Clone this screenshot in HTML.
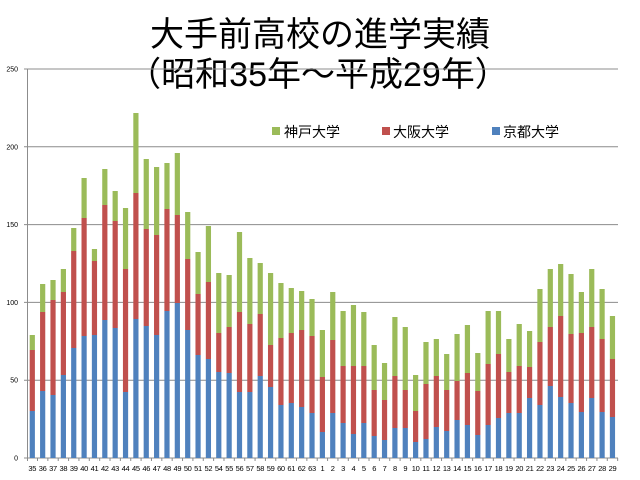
<!DOCTYPE html>
<html><head><meta charset="utf-8"><style>
body{margin:0;background:#fff;width:640px;height:480px;overflow:hidden}
svg{display:block}
text{font-family:"Liberation Sans","Noto Sans CJK JP",sans-serif}
</style></head><body>
<svg id="s" width="640" height="480" xmlns="http://www.w3.org/2000/svg">
<text x="320" y="46" font-size="34" text-anchor="middle" fill="#000">大手前高校の進学実績</text>
<text x="318" y="86" font-size="34" text-anchor="middle" fill="#000">（昭和35年～平成29年）</text>
<g id="g"></g>
<rect x="272" y="127" width="8" height="8" fill="#9bbb59"/><text x="284" y="137" font-size="14">神戸大学</text>
<rect x="382" y="127" width="8" height="8" fill="#c0504d"/><text x="393" y="137" font-size="14">大阪大学</text>
<rect x="492" y="127" width="8" height="8" fill="#4f81bd"/><text x="503" y="137" font-size="14">京都大学</text>
</svg>
<script>
var d=[[411,350,335],[391,312,284],[395,300,280],[375,292,269],[348,251,228],[336,218,178],[335,261,249],[320,205,169],[328,221,191],[392,269,208],[319,193,113],[326,229,159],[335,235,167],[311,209,163],[303,215,153],[330,259,212],[355,294,252],[359,282,226],
[372,333,273],[373,327,275],[392,312,232],[392,324,258],[376,314,263],[387,345,273],[405,338,283],[403,333,288],[407,330,291],[413,336,299],
[432,377,330],[413,340,292],[423,366,311],[434,366,305],[423,366,312],[436,390,345],[440,400,363],[428,376,317],[428,390,327],[442,411,375],[439,384,342],
[427,376,339],[431,390,354],[420,381,334],[425,373,325],[435,391,353],[425,364,311],[418,354,311],[413,372,339],[413,366,324],[398,367,331],[405,342,289],[386,327,269],[397,316,264],[403,334,274],[412,333,292],[398,327,269],[412,339,289],[417,359,316]];
var L=[];for(var i=35;i<=52;i++)L.push(i);for(i=54;i<=63;i++)L.push(i);for(i=1;i<=29;i++)L.push(i);
var h='';
[0,50,100,150,200,250].forEach(function(v){var y=458-v*1.556;h+='<line x1="24" x2="618" y1="'+y+'" y2="'+y+'" stroke="#8c8c8c" stroke-width="1"/><text x="18" y="'+(y+2.5)+'" font-size="7" text-anchor="end">'+v+'</text>';});
h+='<line x1="27.5" x2="27.5" y1="69" y2="461" stroke="#8c8c8c"/>';
for(i=0;i<57;i++){var x=32.3+i*10.36,b=d[i];
h+='<rect x="'+(x-2.6)+'" y="'+b[2]+'" width="5.2" height="'+(b[1]-b[2])+'" fill="#9bbb59"/>';
h+='<rect x="'+(x-2.6)+'" y="'+b[1]+'" width="5.2" height="'+(b[0]-b[1])+'" fill="#c0504d"/>';
h+='<rect x="'+(x-2.6)+'" y="'+b[0]+'" width="5.2" height="'+(458-b[0])+'" fill="#4f81bd"/>';
h+='<line x1="'+(x+5.2)+'" x2="'+(x+5.2)+'" y1="458" y2="461" stroke="#8c8c8c"/>';
h+='<text x="'+x+'" y="471" font-size="7.5" text-anchor="middle" letter-spacing="-0.3">'+L[i]+'</text>';}
document.getElementById('g').innerHTML=h;
</script>
</body></html>
